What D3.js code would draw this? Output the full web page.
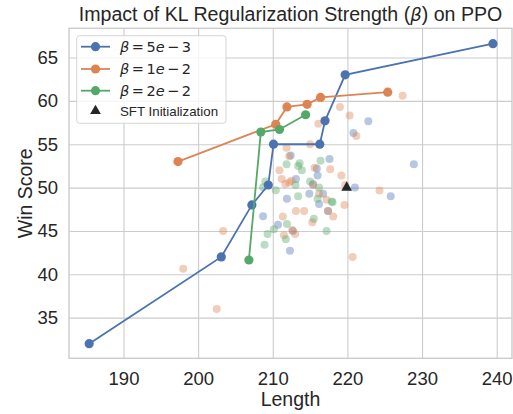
<!DOCTYPE html>
<html>
<head>
<meta charset="utf-8">
<script src="https://cdn.jsdelivr.net/npm/d3@7"></script>
<style>
  html, body { margin: 0; padding: 0; background: #fff; }
  svg { display: block; }
</style>
</head>
<body>
<svg id="chart" width="513" height="414"></svg>
<script>
// ---------- data ----------
const xTicks = [190, 200, 210, 220, 230, 240];
const yTicks = [35, 40, 45, 50, 55, 60, 65];

const lineBeta5e3 = [[185.4, 32.0], [203.1, 42.0], [207.2, 48.0], [209.4, 50.3], [210.1, 55.0], [216.3, 55.0], [217.0, 57.7], [219.7, 63.0], [239.5, 66.6]];
const lineBeta1e2 = [[197.3, 53.0], [210.4, 57.3], [211.9, 59.3], [214.6, 59.6], [216.4, 60.4], [225.4, 61.0]];
const lineBeta2e2 = [[206.8, 41.65], [208.4, 56.4], [210.9, 56.7], [214.4, 58.4]];

const scatterBeta5e3 = [[222.8, 57.65], [220.8, 56.3], [228.9, 52.7], [225.8, 49.0], [221.0, 50.0], [217.6, 53.3], [212.4, 53.7], [215.9, 52.2], [216.0, 51.4], [213.1, 51.0], [211.9, 48.7], [214.9, 49.3], [216.75, 49.3], [216.2, 48.1], [208.7, 46.7], [210.7, 45.7], [212.7, 45.0], [212.3, 42.7], [215.4, 50.4], [217.4, 47.3]];
const scatterBeta1e2 = [[227.4, 60.6], [219.0, 59.3], [220.3, 58.3], [221.2, 55.96], [216.1, 57.35], [215.0, 55.0], [211.85, 54.6], [212.2, 53.6], [210.9, 52.0], [211.2, 51.0], [211.7, 50.4], [212.2, 50.6], [212.5, 50.8], [215.6, 52.3], [217.7, 52.1], [219.2, 51.4], [219.7, 50.3], [224.3, 49.65], [216.2, 49.3], [217.2, 48.6], [215.4, 50.3], [219.6, 48.0], [218.1, 46.65], [213.1, 47.3], [214.2, 47.3], [211.35, 46.65], [215.3, 46.0], [211.5, 44.5], [213.0, 44.65], [220.7, 42.0], [203.35, 45.0], [198.0, 40.65], [202.5, 36.0], [217.4, 47.3], [212.6, 45.1]];
const scatterBeta2e2 = [[211.85, 52.7], [213.4, 52.5], [213.9, 52.0], [213.6, 52.8], [216.4, 53.1], [209.0, 50.7], [208.7, 50.05], [210.4, 49.7], [213.05, 50.3], [215.0, 50.7], [216.2, 50.0], [213.4, 49.0], [216.0, 48.7], [218.0, 48.3], [215.5, 46.4], [211.9, 45.8], [209.3, 44.65], [210.15, 45.2], [211.75, 44.05], [208.9, 43.4], [217.2, 45.0], [217.9, 48.4]];

const sftPoint = [[219.9, 50.0]];

const seriesMantissa = ["5", "1", "2"];
const seriesExponent = ["3", "2", "2"];
const seriesColors = ["#4c72b0", "#dd8452", "#55a868"];

// ---------- layout ----------
const svg = d3.select("#chart");
const pLeft = 69, pRight = 512, pTop = 28.3, pBottom = 358.3;
const x = d3.scaleLinear().domain([182.7, 242.05]).range([pLeft, pRight]);
const y = d3.scaleLinear().domain([30.31, 68.37]).range([pBottom, pTop]);
const font = "'Liberation Sans', Arial, sans-serif";
const gridColor = "#cccccc";
const textColor = "#262626";

// grid
const gx = svg.append("g")
  .attr("transform", `translate(0,${pBottom})`)
  .call(d3.axisBottom(x).tickValues(xTicks).tickSize(-(pBottom - pTop)).tickPadding(13.5).tickFormat(d3.format("d")));
const gy = svg.append("g")
  .attr("transform", `translate(${pLeft},0)`)
  .call(d3.axisLeft(y).tickValues(yTicks).tickSize(-(pRight - pLeft)).tickPadding(11).tickFormat(d3.format("d")));
[gx, gy].forEach(g => {
  g.select(".domain").remove();
  g.selectAll(".tick line").attr("stroke", gridColor).attr("stroke-width", 1.1);
  g.selectAll(".tick text").attr("fill", textColor).style("font-family", font).style("font-size", "18.5px");
});

// frame
svg.append("rect")
  .attr("x", pLeft).attr("y", pTop).attr("width", pRight - pLeft).attr("height", pBottom - pTop)
  .attr("fill", "none").attr("stroke", gridColor).attr("stroke-width", 1.4);

// scatter
const scatters = [scatterBeta5e3, scatterBeta1e2, scatterBeta2e2];
scatters.forEach((pts, i) => {
  svg.append("g").selectAll("circle").data(pts).join("circle")
    .attr("cx", d => x(d[0])).attr("cy", d => y(d[1])).attr("r", 4)
    .attr("fill", seriesColors[i]).attr("fill-opacity", 0.4);
});

// lines
const lines = [lineBeta5e3, lineBeta1e2, lineBeta2e2];
const lineGen = d3.line().x(d => x(d[0])).y(d => y(d[1]));
lines.forEach((pts, i) => {
  const g = svg.append("g");
  g.append("path").datum(pts).attr("d", lineGen)
    .attr("fill", "none").attr("stroke", seriesColors[i]).attr("stroke-width", 1.8);
  g.selectAll("circle").data(pts).join("circle")
    .attr("cx", d => x(d[0])).attr("cy", d => y(d[1])).attr("r", 4.6)
    .attr("fill", seriesColors[i]);
});

// SFT triangle
const tri = d3.symbol().type(d3.symbolTriangle).size(50);
svg.append("g").selectAll("path").data(sftPoint).join("path")
  .attr("d", tri)
  .attr("transform", d => `translate(${x(d[0])},${y(d[1])})`)
  .attr("fill", "#262626");

// title
const title = svg.append("text")
  .attr("x", (pLeft + pRight) / 2).attr("y", 21)
  .attr("text-anchor", "middle").attr("fill", textColor)
  .style("font-family", font).style("font-size", "19.6px");
title.append("tspan").text("Impact of KL Regularization Strength (");
title.append("tspan").text("β").style("font-family", "'DejaVu Sans', sans-serif").style("font-style", "italic").style("font-size", "18px");
title.append("tspan").text(") on PPO");

// axis labels
svg.append("text").attr("x", (pLeft + pRight) / 2).attr("y", 406)
  .attr("text-anchor", "middle").attr("fill", textColor)
  .style("font-family", font).style("font-size", "19.5px").text("Length");
svg.append("text").attr("transform", `translate(32,${(pTop + pBottom) / 2}) rotate(-90)`)
  .attr("text-anchor", "middle").attr("fill", textColor)
  .style("font-family", font).style("font-size", "19.5px").text("Win Score");

// legend
const lg = svg.append("g");
lg.append("rect").attr("x", 76.7).attr("y", 35.7).attr("width", 149.3).attr("height", 87.6)
  .attr("rx", 3).attr("fill", "#ffffff").attr("fill-opacity", 0.8)
  .attr("stroke", "#d6d6d6").attr("stroke-width", 1);
const rowY = [46.7, 69, 90.7];
const mathFont = "'DejaVu Sans', sans-serif";
seriesColors.forEach((c, i) => {
  const yy = rowY[i];
  lg.append("line").attr("x1", 81).attr("x2", 110).attr("y1", yy).attr("y2", yy)
    .attr("stroke", c).attr("stroke-width", 1.8);
  lg.append("circle").attr("cx", 95.5).attr("cy", yy).attr("r", 4.6).attr("fill", c);
  const t = lg.append("text").attr("x", 120).attr("y", yy + 5.3).attr("fill", textColor)
    .style("font-family", mathFont).style("font-size", "14.5px");
  t.append("tspan").text("β").style("font-style", "italic");
  t.append("tspan").attr("dx", 2.5).text("=");
  t.append("tspan").attr("dx", 2.5).text(seriesMantissa[i]);
  t.append("tspan").text("e").style("font-style", "italic");
  t.append("tspan").attr("dx", 2.5).text("−");
  t.append("tspan").attr("dx", 2.5).text(seriesExponent[i]);
});
lg.append("path").attr("d", tri).attr("transform", "translate(95.5,111)").attr("fill", "#262626");
lg.append("text").attr("x", 120).attr("y", 116).attr("fill", textColor)
  .style("font-family", font).style("font-size", "13.3px").text("SFT Initialization");
</script>
</body>
</html>
